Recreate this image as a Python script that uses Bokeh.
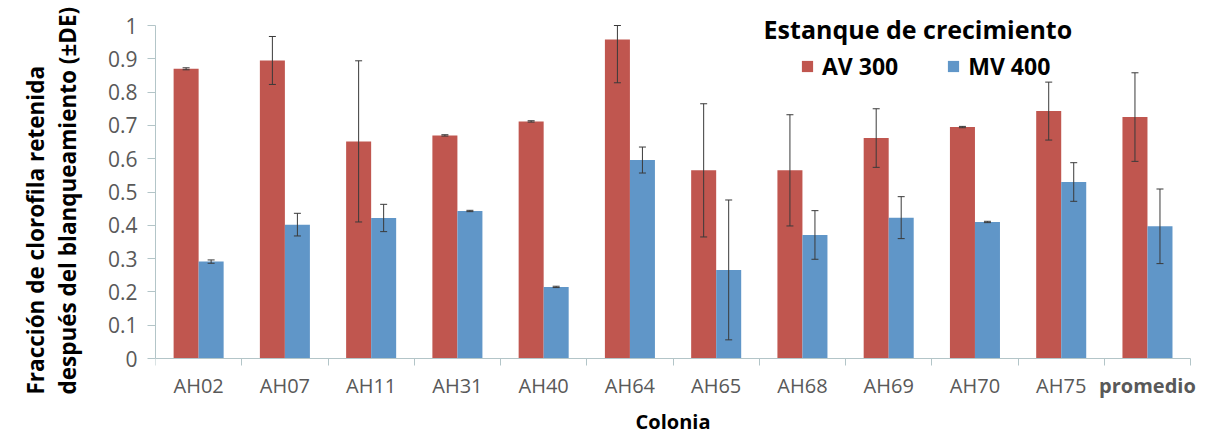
import numpy as np
from bokeh.plotting import figure
from bokeh.models import (ColumnDataSource, Range1d, FixedTicker, Whisker, TeeHead,
                          Legend, LegendItem, Label, LinearAxis, Title)
from bokeh.embed import file_html
from bokeh.resources import INLINE

# ---- data ----
categories = ["AH02", "AH07", "AH11", "AH31", "AH40", "AH64", "AH65",
              "AH68", "AH69", "AH70", "AH75", "promedio"]
av300 = [0.870, 0.895, 0.652, 0.670, 0.712, 0.958, 0.565, 0.565, 0.662, 0.695, 0.743, 0.725]
av300_sd = [0.003, 0.072, 0.242, 0.002, 0.002, 0.130, 0.200, 0.167, 0.088, 0.002, 0.087, 0.133]
mv400 = [0.291, 0.402, 0.422, 0.443, 0.215, 0.596, 0.266, 0.371, 0.423, 0.410, 0.530, 0.397]
mv400_sd = [0.005, 0.034, 0.041, 0.002, 0.002, 0.039, 0.210, 0.073, 0.063, 0.002, 0.058, 0.112]
series_names = ["AV 300", "MV 400"]
y_ticks = [0, 0.1, 0.2, 0.3, 0.4, 0.5, 0.6, 0.7, 0.8, 0.9, 1]
y_tick_labels = ["0", "0.1", "0.2", "0.3", "0.4", "0.5", "0.6", "0.7", "0.8", "0.9", "1"]
legend_title = "Estanque de crecimiento"
x_title = "Colonia"
y_title = "Fracción de clorofila retenida\ndespués del blanqueamiento (±DE)"

# ---- style / layout ----
colors = ["#c0564f", "#6096c8"]
axis_color = "#b3c5c8"
tick_text = "#595959"
FONT = "Open Sans"
bar_w = 0.29
offsets = [-0.145, 0.145]
W, H = 1211, 434
BL = 150
AXIS_END_PX = 1190                 # canvas column where the category axis ends
ZERO_PX, ONE_PX = 358, 25          # canvas rows of the values 0 and 1
y_max = 1.0
ppu = (ZERO_PX - ONE_PX) / y_max
y_start = -(H - ZERO_PX) / ppu
y_end = ZERO_PX / ppu

n = len(categories)
idx = np.arange(n)
centers = idx + 0.5
x_end = n * (W - BL) / (AXIS_END_PX - BL)

p = figure(width=W, height=H, x_range=Range1d(0, x_end), y_range=Range1d(y_start, y_end),
           output_backend="svg", toolbar_location=None,
           min_border_left=BL, min_border_right=0, min_border_top=0, min_border_bottom=0)
p.outline_line_color = None
p.grid.visible = False
p.background_fill_color = "white"

renderers = []
for vals, sds, off, col in [(av300, av300_sd, offsets[0], colors[0]),
                            (mv400, mv400_sd, offsets[1], colors[1])]:
    v = np.array(vals)
    s = np.array(sds)
    src = ColumnDataSource(dict(x=centers + off, top=v,
                                upper=np.minimum(v + s, y_max), lower=v - s))
    r = p.vbar(x="x", top="top", bottom=0, width=bar_w, source=src, fill_color=col,
               line_color=None)
    renderers.append(r)
    w = Whisker(source=src, base="x", upper="upper", lower="lower", dimension="height",
                line_color="#3a3a3a", line_width=1, level="annotation",
                upper_head=TeeHead(size=7, line_color="#3a3a3a", line_width=1),
                lower_head=TeeHead(size=7, line_color="#3a3a3a", line_width=1))
    p.add_layout(w)

# x axis (regular labels), drawn at y = 0
xax = p.xaxis[0]
xax.fixed_location = 0
xax.bounds = (0, n)
xax.ticker = FixedTicker(ticks=list(centers), minor_ticks=list(np.arange(n + 1)))
xax.major_label_overrides = {float(c): (lab if lab != "promedio" else "")
                             for c, lab in zip(centers, categories)}
xax.major_tick_line_color = None
xax.major_tick_out = 7
xax.major_tick_in = 0
xax.minor_tick_out = 7
xax.minor_tick_in = 0
xax.minor_tick_line_color = axis_color
xax.axis_line_color = axis_color
xax.major_label_text_font = FONT
xax.major_label_text_font_size = "20px"
xax.major_label_text_color = tick_text
xax.major_label_standoff = 6
xax.axis_label = x_title
xax.axis_label_text_font = FONT
xax.axis_label_text_font_size = "20px"
xax.axis_label_text_font_style = "bold"
xax.axis_label_text_color = "black"
xax.axis_label_standoff = 6

# second x axis at y=0 carrying the bold "promedio" label
xax2 = LinearAxis(ticker=FixedTicker(ticks=[float(centers[-1])]),
                  major_label_overrides={float(centers[-1]): categories[-1]},
                  fixed_location=0, axis_line_color=None, major_tick_line_color=None,
                  minor_tick_line_color=None, major_tick_out=7, major_tick_in=0,
                  major_label_standoff=6, major_label_text_font=FONT,
                  major_label_text_font_size="20px", major_label_text_font_style="bold",
                  major_label_text_color=tick_text)
p.add_layout(xax2, "below")

# y axis
yax = p.yaxis[0]
yax.ticker = FixedTicker(ticks=y_ticks)
yax.bounds = (0, y_max)
yax.major_label_overrides = {float(t): lab for t, lab in zip(y_ticks, y_tick_labels)}
yax.minor_tick_line_color = None
yax.major_tick_out = 8
yax.major_tick_in = 0
yax.major_tick_line_color = axis_color
yax.axis_line_color = axis_color
yax.major_label_text_font = FONT
yax.major_label_text_font_size = "21px"
yax.major_label_text_color = tick_text
yax.major_label_standoff = 10

# y axis title (left side panel)
p.add_layout(Title(text=y_title, align="left", offset=40, standoff=38,
                   vertical_align="top",
                   text_font=FONT, text_font_size="22.5px", text_font_style="bold",
                   text_color="black", text_line_height=1.05), "left")

# legend
legend = Legend(items=[LegendItem(label=series_names[i], renderers=[renderers[i]])
                       for i in range(2)],
                orientation="horizontal", location=(645, 276 + (H - ZERO_PX)),
                glyph_width=14, glyph_height=14, label_standoff=8, spacing=48,
                padding=0, margin=0, border_line_color=None, background_fill_alpha=0,
                label_text_font=FONT, label_text_font_size="23px",
                label_text_font_style="bold", label_text_color="black")
p.add_layout(legend)
p.add_layout(Label(x=7.05, y=0.99, text=legend_title,
                   text_font=FONT, text_font_size="25px", text_font_style="bold",
                   text_color="black", text_align="left", text_baseline="middle"))

open("out.html", "w").write(file_html(p, INLINE))
